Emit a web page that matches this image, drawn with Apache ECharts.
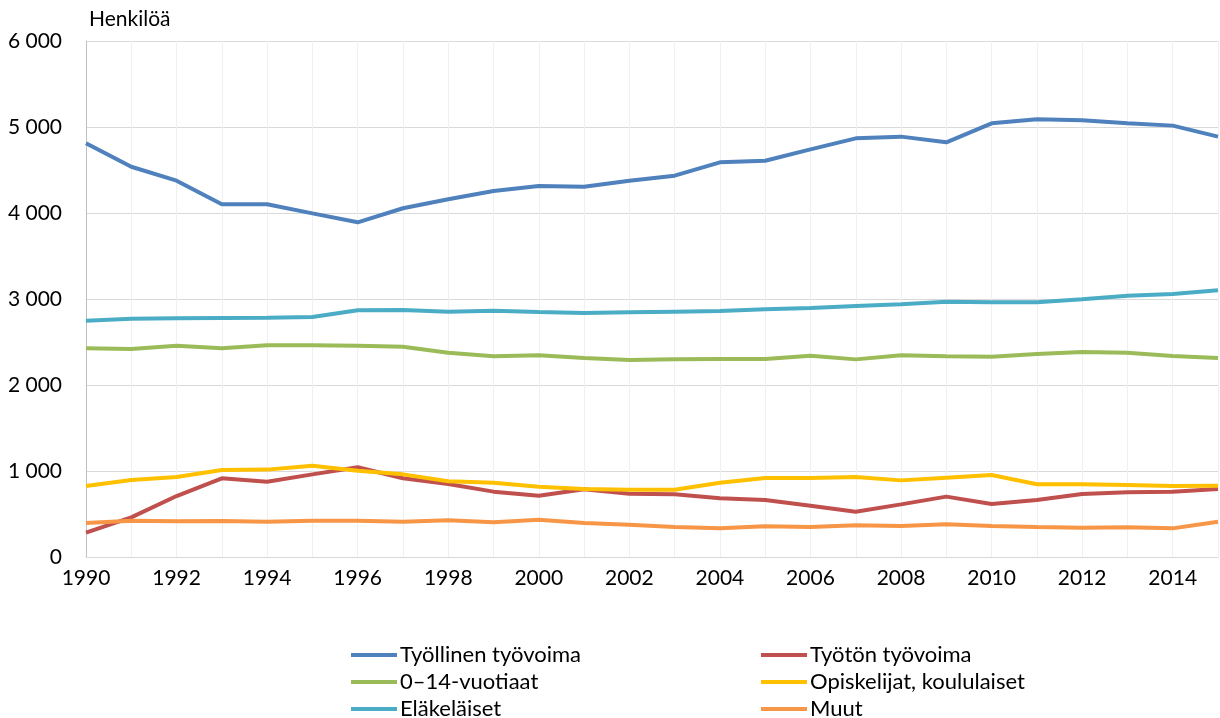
<!DOCTYPE html>
<html>
<head>
<meta charset="utf-8">
<script src="https://cdn.jsdelivr.net/npm/echarts@6/dist/echarts.min.js"></script>
<style>
html,body{margin:0;padding:0;background:#fff;}
#chart{width:1220px;height:718px;}
</style>
</head>
<body>
<div id="chart"></div>
<script>
var years = ['1990','1991','1992','1993','1994','1995','1996','1997','1998','1999','2000','2001','2002','2003','2004','2005','2006','2007','2008','2009','2010','2011','2012','2013','2014','2015'];
var tyollinen = [4810,4538,4376,4101,4101,3996,3892,4055,4159,4256,4314,4306,4375,4434,4589,4608,4740,4868,4888,4822,5043,5089,5078,5043,5016,4888];
var tyoton = [283,461,709,915,876,961,1043,915,849,760,713,787,736,729,682,663,597,527,612,702,616,663,733,752,760,791];
var nuoret = [2427,2419,2457,2427,2461,2461,2457,2446,2376,2333,2345,2314,2291,2298,2302,2302,2341,2298,2345,2333,2329,2360,2384,2376,2337,2314];
var opiskelijat = [826,895,930,1012,1016,1062,1004,961,880,864,818,791,783,783,864,919,918,930,891,922,953,845,845,837,826,829];
var elakelaiset = [2748,2771,2775,2779,2783,2791,2868,2872,2853,2864,2849,2837,2845,2853,2860,2880,2895,2919,2938,2969,2961,2961,2996,3039,3058,3101];
var muut = [395,422,415,419,411,422,422,411,426,403,434,395,376,349,333,357,349,368,360,380,360,349,341,345,333,411];

var names = ['Työllinen työvoima','Työtön työvoima','0–14-vuotiaat','Opiskelijat, koululaiset','Eläkeläiset','Muut'];
var colors = ['#4F81BD','#C0504D','#9BBB59','#FFC000','#4BACC6','#F79646'];
var dataSets = [tyollinen, tyoton, nuoret, opiskelijat, elakelaiset, muut];

var FONT = 'Lato, "Open Sans", sans-serif';
var chart = echarts.init(document.getElementById('chart'));
var series = names.map(function(n,i){
  return {
    name: n, type: 'line', data: dataSets[i], symbol: 'none',
    lineStyle: {width: 4, color: colors[i]}, itemStyle: {color: colors[i]},
    z: 2 + i
  };
});
var legendCommon = {
  orient: 'vertical', icon: 'rect', itemWidth: 46, itemHeight: 4, itemGap: 5,
  height: 100,
  textStyle: {fontFamily: FONT, fontSize: 22, lineHeight: 22, color: '#000', padding: [0,0,0,-2]},
  selectedMode: false
};
chart.setOption({
  animation: false,
  textStyle: {fontFamily: FONT},
  title: {text: 'Henkilöä', left: 84, top: 4, textStyle: {fontFamily: FONT, fontSize: 21, fontWeight: 'normal', color: '#000'}},
  grid: {left: 86, right: 2, top: 41, bottom: 161, containLabel: false},
  legend: [
    Object.assign({}, legendCommon, {left: 346, top: 639, data: [names[0], names[2], names[4]]}),
    Object.assign({}, legendCommon, {left: 756, top: 639, data: [names[1], names[3], names[5]]})
  ],
  xAxis: {
    type: 'category', data: years, boundaryGap: false,
    axisLine: {lineStyle: {color: '#d9d9d9', width: 1}},
    axisTick: {show: false},
    axisLabel: {interval: 1, fontFamily: FONT, fontSize: 21, color: '#000', margin: 11},
    splitLine: {show: true, interval: 0, lineStyle: {color: '#f0f0f0', width: 1}}
  },
  yAxis: {
    type: 'value', min: 0, max: 6000, interval: 1000,
    axisLine: {show: true, lineStyle: {color: '#bfbfbf', width: 1}},
    axisTick: {show: false},
    axisLabel: {fontFamily: FONT, fontSize: 21, color: '#000', margin: 24,
      formatter: function(v){ return String(v).replace(/\B(?=(\d{3})+(?!\d))/g, ' '); }},
    splitLine: {lineStyle: {color: '#d9d9d9', width: 1}}
  },
  series: series
});
</script>
</body>
</html>
